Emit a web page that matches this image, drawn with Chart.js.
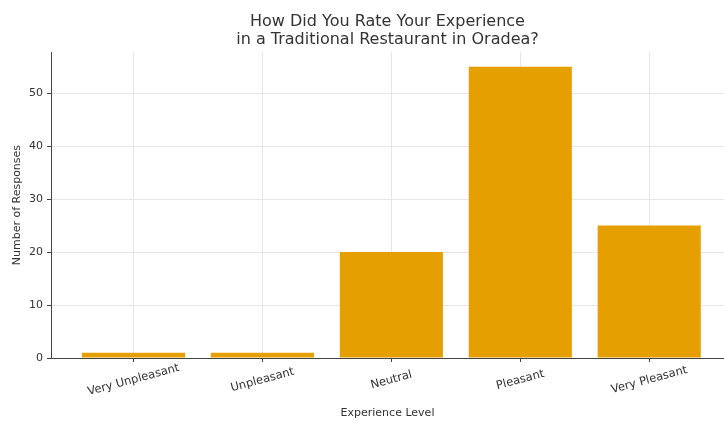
<!DOCTYPE html>
<html>
<head>
<meta charset="utf-8">
<script src="https://cdn.jsdelivr.net/npm/chart.js@4/dist/chart.umd.min.js"></script>
<style>
  html, body { margin: 0; padding: 0; background: #ffffff; }
  #wrap { width: 724px; height: 421px; position: relative; }
</style>
</head>
<body>
<div id="wrap"><canvas id="c" width="724" height="421"></canvas></div>
<script>
// Survey answers: how respondents rated a traditional restaurant in Oradea
const categories = ['Very Unpleasant', 'Unpleasant', 'Neutral', 'Pleasant', 'Very Pleasant'];
const responses = [1, 1, 20, 55, 25];
const yTicks = [0, 10, 20, 30, 40, 50];

const BAR_COLOR = '#E69F00';
const TEXT_COLOR = '#333333';
const GRID_COLOR = '#e6e6e6';
const AXIS_COLOR = '#444444';
const FONT = 'DejaVu Sans';

// Category labels, drawn centred under each tick and tilted by 15 degrees
const tiltedLabels = {
  id: 'tiltedLabels',
  afterDraw(chart) {
    const ctx = chart.ctx;
    const xs = chart.scales.x;
    const top = chart.chartArea.bottom;
    ctx.save();
    ctx.font = '11.5px "' + FONT + '"';
    ctx.fillStyle = TEXT_COLOR;
    ctx.textAlign = 'center';
    ctx.textBaseline = 'middle';
    categories.forEach((label, i) => {
      const x = xs.getPixelForValue(i);
      ctx.save();
      ctx.translate(x, top + 22);
      ctx.rotate(-15 * Math.PI / 180);
      ctx.fillText(label, 0, 0);
      ctx.restore();
    });
    ctx.restore();
  }
};

new Chart(document.getElementById('c'), {
  type: 'bar',
  data: {
    datasets: [{
      data: categories.map((c, i) => ({ x: i, y: responses[i] })),
      backgroundColor: BAR_COLOR,
      borderWidth: 0,
      categoryPercentage: 1.0,
      barPercentage: 0.8
    }]
  },
  options: {
    responsive: false,
    animation: false,
    devicePixelRatio: 1,
    layout: { padding: { left: 0, right: 0, top: 0, bottom: 0 } },
    plugins: {
      legend: { display: false },
      tooltip: { enabled: false },
      title: {
        display: true,
        fullSize: false,
        text: ['How Did You Rate Your Experience', 'in a Traditional Restaurant in Oradea?'],
        color: TEXT_COLOR,
        font: { family: FONT, size: 16, weight: 'normal', lineHeight: 1.1 },
        padding: { top: 13, bottom: 4 }
      }
    },
    scales: {
      x: {
        type: 'linear',
        min: -0.64,
        max: 4.58,
        offset: false,
        afterBuildTicks(scale) {
          scale.ticks = categories.map((c, i) => ({ value: i }));
        },
        afterFit(scale) { scale.height = 63; },
        ticks: { display: false },
        grid: {
          offset: false,
          color: GRID_COLOR,
          lineWidth: 1,
          drawTicks: true,
          tickLength: 4,
          tickColor: AXIS_COLOR
        },
        border: { display: true, color: AXIS_COLOR, width: 1 },
        title: {
          display: true,
          text: 'Experience Level',
          color: TEXT_COLOR,
          font: { family: FONT, size: 11 },
          padding: { top: 0, bottom: 1 },
          align: 'center'
        }
      },
      y: {
        min: 0,
        max: 57.75,
        afterBuildTicks(scale) {
          scale.ticks = yTicks.map(v => ({ value: v }));
        },
        afterFit(scale) { scale.width = 51; },
        ticks: {
          color: TEXT_COLOR,
          font: { family: FONT, size: 11 },
          padding: 4
        },
        grid: {
          color: GRID_COLOR,
          lineWidth: 1,
          drawTicks: true,
          tickLength: 4,
          tickColor: AXIS_COLOR
        },
        border: { display: true, color: AXIS_COLOR, width: 1 },
        title: {
          display: true,
          text: 'Number of Responses',
          color: TEXT_COLOR,
          font: { family: FONT, size: 11 },
          padding: { top: 11, bottom: 0 }
        }
      }
    }
  },
  plugins: [tiltedLabels]
});
</script>
</body>
</html>
